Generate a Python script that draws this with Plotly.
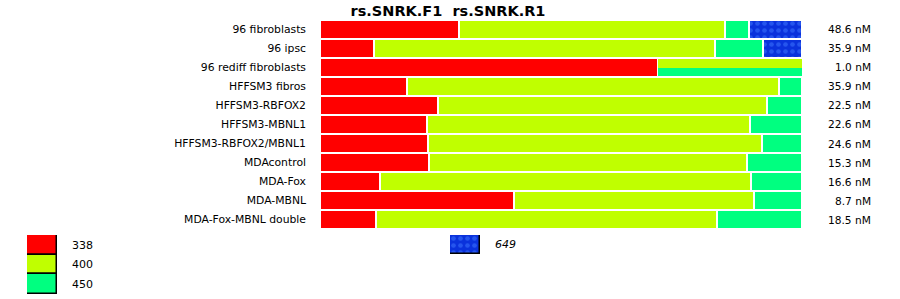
import plotly.graph_objects as go

# ---- data ----
samples = ["96 fibroblasts", "96 ipsc", "96 rediff fibroblasts", "HFFSM3 fibros",
           "HFFSM3-RBFOX2", "HFFSM3-MBNL1", "HFFSM3-RBFOX2/MBNL1", "MDAcontrol",
           "MDA-Fox", "MDA-MBNL", "MDA-Fox-MBNL double"]
p338 = [28.75, 11.25, 70.2, 18.1, 24.4, 22.3, 22.5, 22.7, 12.5, 40.2, 11.7]
p400 = [55.2, 70.8, 29.8, 77.1, 68.3, 66.9, 69.2, 65.8, 76.9, 49.8, 70.6]
p450 = [5.0, 9.8, 29.8, 4.8, 7.3, 10.8, 8.3, 11.5, 10.6, 10.0, 17.7]
p649 = [11.05, 8.1, 0, 0, 0, 0, 0, 0, 0, 0, 0]
split_rows = ["96 rediff fibroblasts"]   # 400 and 450 share the same span (half height each)
conc = ["48.6 nM", "35.9 nM", "1.0 nM", "35.9 nM", "22.5 nM", "22.6 nM",
        "24.6 nM", "15.3 nM", "16.6 nM", "8.7 nM", "18.5 nM"]
legend_main = ["338", "400", "450"]
legend_extra = ["649"]
title_text = "rs.SNRK.F1  rs.SNRK.R1"

# ---- styles ----
C338, C400, C450 = "#ff0000", "#c0ff00", "#00ff80"
C649_BG, C649_FG = "#0a32dc", "#3f78ff"
FONT = "DejaVu Sans"
W, H = 900, 299

def px_x(p):
    return p / W

def px_y(p):
    return 1 - p / H

is_split = [s in split_rows for s in samples]
base400 = p338
base450 = [a if sp else a + b for a, b, sp in zip(p338, p400, is_split)]
half = 0.447
w400 = [half if sp else 1 for sp in is_split]
o400 = [-half if sp else -0.5 for sp in is_split]
w450 = [half if sp else 1 for sp in is_split]
o450 = [0 if sp else -0.5 for sp in is_split]
lw = [0 if sp else 2 for sp in is_split]

fig = go.Figure()
fig.add_trace(go.Bar(y=samples, x=p338, base=0, orientation="h", width=1, offset=-0.5,
                     marker=dict(color=C338, line=dict(color="white", width=2)),
                     hoverinfo="skip", showlegend=False))
fig.add_trace(go.Bar(y=samples, x=p400, base=base400, orientation="h", width=w400, offset=o400,
                     marker=dict(color=C400, line=dict(color="white", width=lw)),
                     hoverinfo="skip", showlegend=False))
fig.add_trace(go.Bar(y=samples, x=p450, base=base450, orientation="h", width=w450, offset=o450,
                     marker=dict(color=C450, line=dict(color="white", width=lw)),
                     hoverinfo="skip", showlegend=False))
s649 = [s for s, v in zip(samples, p649) if v > 0]
v649 = [v for v in p649 if v > 0]
b649 = [a + b + c for a, b, c, v in zip(p338, p400, p450, p649) if v > 0]
fig.add_trace(go.Bar(y=s649, x=v649, base=b649, orientation="h", width=1, offset=-0.5,
                     marker=dict(color=C649_BG, line=dict(color="white", width=2),
                                 pattern=dict(shape=".", bgcolor=C649_BG, fgcolor=C649_FG,
                                              size=7, solidity=0.35)),
                     hoverinfo="skip", showlegend=False))

# legend swatches (separate small axes)
fig.add_trace(go.Bar(y=legend_main, x=[1, 1, 1], orientation="h", width=1,
                     marker=dict(color=[C338, C400, C450], line=dict(color="black", width=1.5)),
                     xaxis="x2", yaxis="y2", hoverinfo="skip", showlegend=False))
fig.add_trace(go.Bar(y=legend_extra, x=[1], orientation="h", width=1,
                     marker=dict(color=C649_BG, line=dict(color="black", width=1.5),
                                 pattern=dict(shape=".", bgcolor=C649_BG, fgcolor=C649_FG,
                                              size=7, solidity=0.35)),
                     xaxis="x3", yaxis="y3", hoverinfo="skip", showlegend=False))

# concentration labels on the right
for s, c in zip(samples, conc):
    fig.add_annotation(x=px_x(872.5), xref="paper", xanchor="right", y=s, yref="y",
                       text=c, showarrow=False, font=dict(family=FONT, size=10.6, color="black"))

fig.update_layout(
    width=W, height=H, margin=dict(l=0, r=0, t=0, b=0),
    paper_bgcolor="white", plot_bgcolor="white",
    barmode="overlay", bargap=0,
    font=dict(family=FONT, color="black"),
    title=dict(text=title_text, x=px_x(448), xanchor="center", xref="paper",
               y=px_y(10.5), yanchor="middle", yref="container",
               font=dict(family=FONT, size=14.5, color="black", weight="bold")),
    xaxis=dict(domain=[px_x(320), px_x(802)], range=[0, 100], visible=False, fixedrange=True),
    yaxis=dict(domain=[px_y(229), px_y(20)], type="category", autorange="reversed",
               showgrid=False, zeroline=False, showline=False, ticks="",
               ticklabelstandoff=13, automargin=False,
               tickfont=dict(family=FONT, size=10.8, color="black")),
    xaxis2=dict(domain=[px_x(27), px_x(57)], range=[0, 1], visible=False, anchor="y2"),
    yaxis2=dict(domain=[px_y(294), px_y(235)], type="category", autorange="reversed",
                anchor="x2", side="right", showgrid=False, zeroline=False, showline=False,
                ticks="", ticklabelstandoff=14, automargin=False,
                tickfont=dict(family=FONT, size=11, color="black")),
    xaxis3=dict(domain=[px_x(450), px_x(480)], range=[0, 1], visible=False, anchor="y3"),
    yaxis3=dict(domain=[px_y(254), px_y(235)], type="category",
                anchor="x3", side="right", showgrid=False, zeroline=False, showline=False,
                ticks="", ticklabelstandoff=14, automargin=False,
                tickfont=dict(family=FONT, size=11, color="black", style="italic")),
)

fig.write_html("out.html")
